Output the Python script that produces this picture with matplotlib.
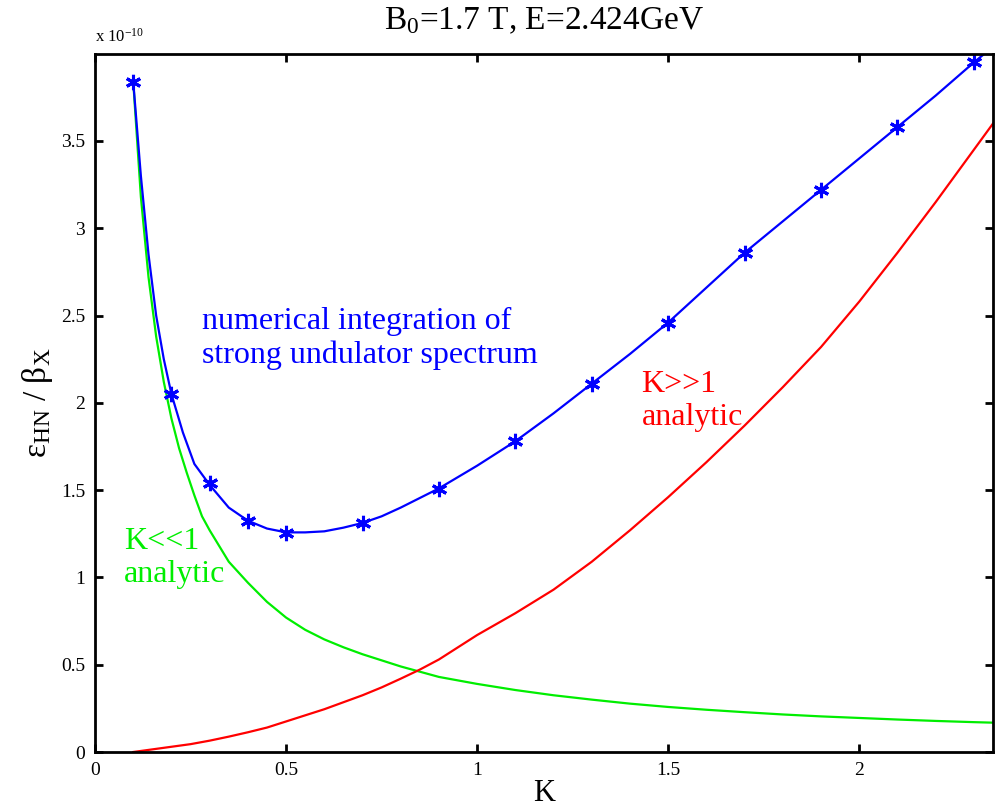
import matplotlib
matplotlib.use('Agg')
import matplotlib.pyplot as plt

plt.rcParams['font.family'] = ['Liberation Serif', 'DejaVu Serif']
plt.rcParams['mathtext.fontset'] = 'custom'
plt.rcParams['mathtext.rm'] = 'Liberation Serif'
plt.rcParams['mathtext.it'] = 'Liberation Serif:italic'

# numerical integration (blue line), units of 1e-10
k_num = [0.10, 0.12, 0.14, 0.16, 0.18, 0.20, 0.23, 0.26, 0.30, 0.35, 0.40, 0.45,
         0.50, 0.55, 0.60, 0.65, 0.70, 0.75, 0.80, 0.90, 1.00, 1.10, 1.20, 1.30,
         1.40, 1.50, 1.60, 1.70, 1.80, 1.90, 2.00, 2.10, 2.20, 2.30, 2.35]
eps_num = [3.84, 3.30, 2.85, 2.50, 2.25, 2.05, 1.83, 1.65, 1.53, 1.40, 1.325, 1.28,
           1.258, 1.258, 1.264, 1.285, 1.312, 1.35, 1.40, 1.51, 1.64, 1.78, 1.94, 2.11,
           2.28, 2.46, 2.66, 2.86, 3.04, 3.22, 3.40, 3.58, 3.76, 3.95, 4.04]

# sampled points (blue stars)
k_pts = [0.1, 0.2, 0.3, 0.4, 0.5, 0.7, 0.9, 1.1, 1.3, 1.5, 1.7, 1.9, 2.1, 2.3]
eps_pts = [3.84, 2.05, 1.54, 1.325, 1.255, 1.31, 1.505, 1.78, 2.11, 2.46, 2.86, 3.22, 3.58, 3.95]

# K<<1 analytic (green)
k_low = [0.10, 0.12, 0.14, 0.16, 0.18, 0.20, 0.22, 0.24, 0.26, 0.28, 0.30, 0.35,
         0.40, 0.45, 0.50, 0.55, 0.60, 0.65, 0.70, 0.75, 0.80, 0.85, 0.90, 0.95,
         1.00, 1.10, 1.20, 1.30, 1.40, 1.50, 1.60, 1.70, 1.80, 1.90, 2.00, 2.10,
         2.20, 2.30, 2.35]
eps_low = [3.84, 3.18, 2.72, 2.38, 2.12, 1.91, 1.74, 1.60, 1.47, 1.35, 1.27, 1.09,
           0.97, 0.86, 0.77, 0.70, 0.645, 0.60, 0.56, 0.525, 0.49, 0.46, 0.43, 0.41,
           0.39, 0.355, 0.325, 0.30, 0.277, 0.258, 0.242, 0.228, 0.215, 0.204, 0.195, 0.186,
           0.178, 0.171, 0.168]

# K>>1 analytic (red)
k_high = [0.10, 0.15, 0.20, 0.25, 0.30, 0.35, 0.40, 0.45, 0.50, 0.55, 0.60, 0.65,
          0.70, 0.75, 0.80, 0.85, 0.90, 0.95, 1.00, 1.10, 1.20, 1.30, 1.40, 1.50,
          1.60, 1.70, 1.80, 1.90, 2.00, 2.10, 2.20, 2.30, 2.35]
eps_high = [0.0, 0.015, 0.03, 0.045, 0.065, 0.088, 0.113, 0.14, 0.175, 0.21, 0.245, 0.285,
            0.325, 0.37, 0.42, 0.472, 0.53, 0.60, 0.67, 0.795, 0.93, 1.09, 1.27, 1.46,
            1.66, 1.87, 2.09, 2.32, 2.58, 2.86, 3.15, 3.45, 3.60]

fig = plt.figure(figsize=(9.96, 8.10), dpi=100)
ax = fig.add_axes([0.0954, 0.0716, 0.9016, 0.8617])

ax.plot(k_low, eps_low, color='#00ee00', linewidth=1.6)
ax.plot(k_high, eps_high, color='#ff0000', linewidth=1.6)
ax.plot(k_num, eps_num, color='#0000ff', linewidth=1.6)
ax.plot(k_pts, eps_pts, linestyle='none', marker=(6, 2, 0), markersize=11,
        markeredgewidth=2.2, color='#0000ff')

ax.set_xlim(0, 2.35)
ax.set_ylim(0, 3.998)
ax.set_xticks([0, 0.5, 1, 1.5, 2])
ax.set_xticklabels(['0', '0.5', '1', '1.5', '2'])
ax.set_yticks([0, 0.5, 1, 1.5, 2, 2.5, 3, 3.5])
ax.set_yticklabels(['0', '0.5', '1', '1.5', '2', '2.5', '3', '3.5'])
ax.tick_params(direction='in', length=6, width=2, top=True, right=True,
               labelsize=14, pad=7)
for s in ax.spines.values():
    s.set_linewidth(2)

ax.set_title('B$_0$=1.7 T, E=2.424GeV', fontsize=24, pad=18)
ax.set_xlabel('K', fontsize=22, labelpad=0)
ax.set_ylabel('ε$_{\\mathrm{HN}}$ / β$_{\\mathrm{X}}$', fontsize=24, labelpad=4)
fig.text(0.0954, 0.944, 'x 10$^{-10}$', fontsize=12, ha='left', va='bottom')

ax.text(0.28, 2.37, 'numerical integration of\nstrong undulator spectrum',
        color='#0000ff', fontsize=23, va='center', linespacing=1.2)
ax.text(1.43, 2.01, 'K>>1\nanalytic', color='#ff0000', fontsize=23,
        va='center', linespacing=1.2)
ax.text(0.075, 1.11, 'K<<1\nanalytic', color='#00ee00', fontsize=23,
        va='center', linespacing=1.2)

fig.savefig('out.png', dpi=100)
